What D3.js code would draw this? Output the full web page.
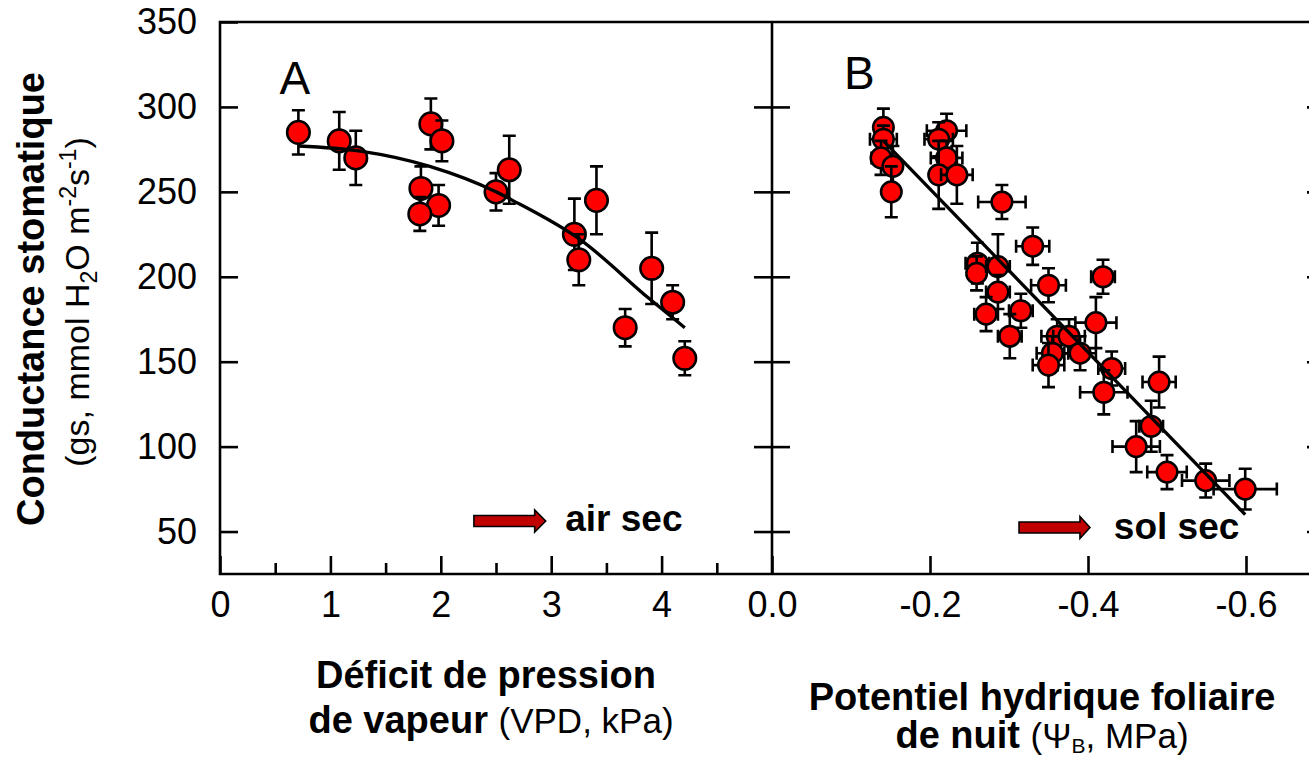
<!DOCTYPE html>
<html>
<head>
<meta charset="utf-8">
<script src="https://cdn.jsdelivr.net/npm/d3@7"></script>
<style>
  body { margin: 0; background: #fff; }
  svg { display: block; font-family: "Liberation Sans", Arial, Helvetica, sans-serif; }
</style>
</head>
<body>
<svg id="chart" width="1309" height="757"></svg>
<script>
// ---- Panel A: stomatal conductance vs. vapour pressure deficit ----
const vpdX   = [0.71, 1.08, 1.23, 1.91, 2.01, 1.82, 1.98, 1.81, 2.50, 2.62, 3.21, 3.25, 3.41, 3.91, 4.10, 3.67, 4.21];
const vpdGs  = [285, 280, 270, 290, 280, 252, 242, 237, 250, 263, 225, 210, 245, 205, 185, 170, 152];
const vpdErr = [13, 17, 16, 15, 12, 13, 12, 10, 11, 20, 21, 15, 20, 21, 10, 11, 10];
// fitted curve, panel A (x, gs)
const vpdFitX = [0.71, 1.27, 1.90, 2.50, 2.65, 3.26, 3.89, 4.21];
const vpdFitY = [277, 274, 265, 250, 245, 222, 187, 170];

// ---- Panel B: stomatal conductance vs. predawn leaf water potential ----
const psiX    = [-0.141, -0.141, -0.138, -0.153, -0.151, -0.221, -0.211, -0.221, -0.211, -0.234,
                 -0.291, -0.330, -0.260, -0.259, -0.286, -0.286, -0.350, -0.271, -0.315, -0.301,
                 -0.419, -0.410, -0.361, -0.376, -0.355, -0.350, -0.390, -0.430, -0.420, -0.490,
                 -0.480, -0.461, -0.500, -0.549, -0.599];
const psiGs   = [288, 281, 270, 265, 250, 286, 281, 270, 260, 260,
                 244, 218, 208, 202, 206, 191, 195, 178, 180, 165,
                 200, 173, 165, 165, 155, 148, 155, 146, 132, 138,
                 112, 100, 85, 80, 75];
const psiXErr = [0.010, 0.017, 0.012, 0.010, 0.010, 0.025, 0.018, 0.020, 0.010, 0.020,
                 0.030, 0.021, 0.015, 0.010, 0.015, 0.015, 0.022, 0.015, 0.015, 0.015,
                 0.015, 0.026, 0.020, 0.020, 0.020, 0.020, 0.020, 0.017, 0.030, 0.021,
                 0.015, 0.030, 0.025, 0.030, 0.040];
const psiYErr = [11, 8, 10, 12, 15, 10, 10, 10, 20, 17,
                 10, 11, 12, 10, 19, 10, 10, 10, 10, 13,
                 10, 15, 10, 10, 10, 13, 10, 10, 13, 15,
                 15, 15, 10, 10, 12];
// fitted line, panel B (x, gs)
const psiFitX = [-0.141, -0.599];
const psiFitY = [280, 60];

// ---- Axis ticks ----
const gsTicks      = [50, 100, 150, 200, 250, 300, 350];
const gsInnerTicks = [50, 100, 150, 200, 250, 300];
const vpdTicks     = [0, 1, 2, 3, 4];
const vpdMinor     = [0.5, 1.5, 2.5, 3.5, 4.5];
const psiTicks     = [0, -0.2, -0.4, -0.6];

// ---- Scales ----
const y  = d3.scaleLinear().domain([25, 350]).range([574, 22]);
const xA = d3.scaleLinear().domain([0, 5]).range([220, 772]);
const xB = d3.scaleLinear().domain([0, -0.7]).range([772, 1325]);

const svg = d3.select("#chart");
const LW = 2.6;

function styleAxis(g, fs) {
  g.select(".domain").remove();
  g.attr("font-family", null).attr("font-size", fs);
  g.selectAll(".tick line").attr("stroke", "#000").attr("stroke-width", LW);
  g.selectAll(".tick text").attr("fill", "#000");
}

// Frame
const frame = d3.path();
frame.moveTo(xA(0), y(350)); frame.lineTo(xB(-0.7), y(350));
frame.moveTo(xA(0), y(25));  frame.lineTo(xB(-0.7), y(25));
frame.moveTo(xA(0), y(350)); frame.lineTo(xA(0), y(25));
frame.moveTo(xA(5), y(350)); frame.lineTo(xA(5), y(25));
frame.moveTo(xB(-0.7), y(350)); frame.lineTo(xB(-0.7), y(25));
svg.append("path").attr("d", frame.toString())
  .attr("fill", "none").attr("stroke", "#000").attr("stroke-width", LW)
  .attr("stroke-linecap", "square");

// Y axis (labels on panel A only)
svg.append("g").attr("transform", `translate(${xA(0)},0)`)
  .call(d3.axisLeft(y).tickValues(gsTicks).tickSizeInner(-18).tickSizeOuter(0)
        .tickPadding(23).tickFormat(d3.format("d")))
  .call(g => styleAxis(g, 36));
svg.append("g").attr("transform", `translate(${xA(5)},0)`)
  .call(d3.axisRight(y).tickValues(gsInnerTicks).tickSizeInner(-18).tickSizeOuter(0).tickFormat(""))
  .call(g => styleAxis(g, 36));
svg.append("g").attr("transform", `translate(${xB(0)},0)`)
  .call(d3.axisLeft(y).tickValues(gsInnerTicks).tickSizeInner(-18).tickSizeOuter(0).tickFormat(""))
  .call(g => styleAxis(g, 36));
svg.append("g").attr("transform", `translate(${xB(-0.7)},0)`)
  .call(d3.axisRight(y).tickValues(gsInnerTicks).tickSizeInner(-18).tickSizeOuter(0).tickFormat(""))
  .call(g => styleAxis(g, 36));

// X axes
svg.append("g").attr("transform", `translate(0,${y(25)})`)
  .call(d3.axisBottom(xA).tickValues(vpdTicks).tickSizeInner(-18).tickSizeOuter(0)
        .tickPadding(17).tickFormat(d3.format("d")))
  .call(g => styleAxis(g, 36));
svg.append("g").attr("transform", `translate(0,${y(25)})`)
  .call(d3.axisBottom(xA).tickValues(vpdMinor).tickSizeInner(-11).tickSizeOuter(0).tickFormat(""))
  .call(g => styleAxis(g, 36));
svg.append("g").attr("transform", `translate(0,${y(25)})`)
  .call(d3.axisBottom(xB).tickValues(psiTicks).tickSizeInner(-18).tickSizeOuter(0)
        .tickPadding(17).tickFormat(d => d.toFixed(1)))
  .call(g => styleAxis(g, 36));

// Points with error bars
function drawPoints(xs, ys, xErr, yErr, xScale, r) {
  const layer = svg.append("g");
  const cap = 6.5;
  xs.forEach((xv, i) => {
    const g = layer.append("g");
    const cx = xScale(xv), cy = y(ys[i]);
    const p = d3.path();
    const y0 = y(ys[i] + yErr[i]), y1 = y(ys[i] - yErr[i]);
    p.moveTo(cx, y0); p.lineTo(cx, y1);
    p.moveTo(cx - cap, y0); p.lineTo(cx + cap, y0);
    p.moveTo(cx - cap, y1); p.lineTo(cx + cap, y1);
    if (xErr) {
      const x0 = xScale(xv + xErr[i]), x1 = xScale(xv - xErr[i]);
      p.moveTo(x0, cy); p.lineTo(x1, cy);
      p.moveTo(x0, cy - cap); p.lineTo(x0, cy + cap);
      p.moveTo(x1, cy - cap); p.lineTo(x1, cy + cap);
    }
    g.append("path").attr("d", p.toString()).attr("fill", "none")
      .attr("stroke", "#000").attr("stroke-width", LW);
    g.append("circle").attr("cx", cx).attr("cy", cy).attr("r", r)
      .attr("fill", "#ff0000").attr("stroke", "#000").attr("stroke-width", 2.5);
  });
}
drawPoints(vpdX, vpdGs, null, vpdErr, xA, 11.3);
drawPoints(psiX, psiGs, psiXErr, psiYErr, xB, 10.3);

// Fit lines
const fitA = vpdFitX.map((v, i) => [v, vpdFitY[i]]);
const fitB = psiFitX.map((v, i) => [v, psiFitY[i]]);
svg.append("path").datum(fitA)
  .attr("d", d3.line().x(d => xA(d[0])).y(d => y(d[1])).curve(d3.curveMonotoneX))
  .attr("fill", "none").attr("stroke", "#000").attr("stroke-width", 3.3);
svg.append("path").datum(fitB)
  .attr("d", d3.line().x(d => xB(d[0])).y(d => y(d[1])))
  .attr("fill", "none").attr("stroke", "#000").attr("stroke-width", 3.3);

// Panel letters
svg.append("text").attr("x", xA(0.54)).attr("y", y(307.6))
  .attr("font-size", 46).text("A");
svg.append("text").attr("x", xB(-0.091)).attr("y", y(310.6))
  .attr("font-size", 46).text("B");

// Direction arrows with captions
function blockArrow(xStart, xEnd, yMid, head) {
  const p = d3.path();
  const hs = 5.5, hh = 11;
  const xh = xEnd - head;
  p.moveTo(xStart, yMid - hs); p.lineTo(xh, yMid - hs); p.lineTo(xh, yMid - hh);
  p.lineTo(xEnd, yMid); p.lineTo(xh, yMid + hh); p.lineTo(xh, yMid + hs);
  p.lineTo(xStart, yMid + hs); p.closePath();
  svg.append("path").attr("d", p.toString()).attr("fill", "#c00000")
    .attr("stroke", "#000").attr("stroke-width", 1.6);
}
blockArrow(xA(2.30), xA(2.95), y(56.2), 11);
svg.append("text").attr("x", xA(3.127)).attr("y", y(50.6))
  .attr("font-size", 37).attr("font-weight", "bold").text("air sec");
blockArrow(xB(-0.3127), xB(-0.4025), y(52.4), 10);
svg.append("text").attr("x", xB(-0.4327)).attr("y", y(45.9))
  .attr("font-size", 37).attr("font-weight", "bold").text("sol sec");

// Axis titles
svg.append("text").attr("transform", "translate(44,299) rotate(-90)")
  .attr("text-anchor", "middle").attr("font-size", 38).attr("font-weight", "bold")
  .text("Conductance stomatique");
const yt2 = svg.append("text").attr("transform", "translate(89,302) rotate(-90)")
  .attr("text-anchor", "middle").attr("font-size", 34);
yt2.append("tspan").text("(gs, mmol H");
yt2.append("tspan").attr("font-size", 23).attr("dy", 8).text("2");
yt2.append("tspan").attr("dy", -8).text("O m");
yt2.append("tspan").attr("font-size", 23).attr("dy", -13).text("-2");
yt2.append("tspan").attr("dy", 13).text("s");
yt2.append("tspan").attr("font-size", 23).attr("dy", -13).text("-1");
yt2.append("tspan").attr("dy", 13).text(")");

svg.append("text").attr("x", 486).attr("y", 688).attr("text-anchor", "middle")
  .attr("font-size", 38).attr("font-weight", "bold").text("Déficit de pression");
const xt2 = svg.append("text").attr("x", 491).attr("y", 733).attr("text-anchor", "middle")
  .attr("font-size", 38);
xt2.append("tspan").attr("font-weight", "bold").text("de vapeur ");
xt2.append("tspan").attr("font-size", 35).text("(VPD, kPa)");

svg.append("text").attr("x", 1042).attr("y", 710).attr("text-anchor", "middle")
  .attr("font-size", 38).attr("font-weight", "bold").text("Potentiel hydrique foliaire");
const xt3 = svg.append("text").attr("x", 1042).attr("y", 748).attr("text-anchor", "middle")
  .attr("font-size", 38);
xt3.append("tspan").attr("font-weight", "bold").text("de nuit ");
xt3.append("tspan").attr("font-size", 35).text("(Ψ");
xt3.append("tspan").attr("font-size", 21).attr("dy", 5).text("B");
xt3.append("tspan").attr("font-size", 35).attr("dy", -5).text(", MPa)");
</script>
</body>
</html>
